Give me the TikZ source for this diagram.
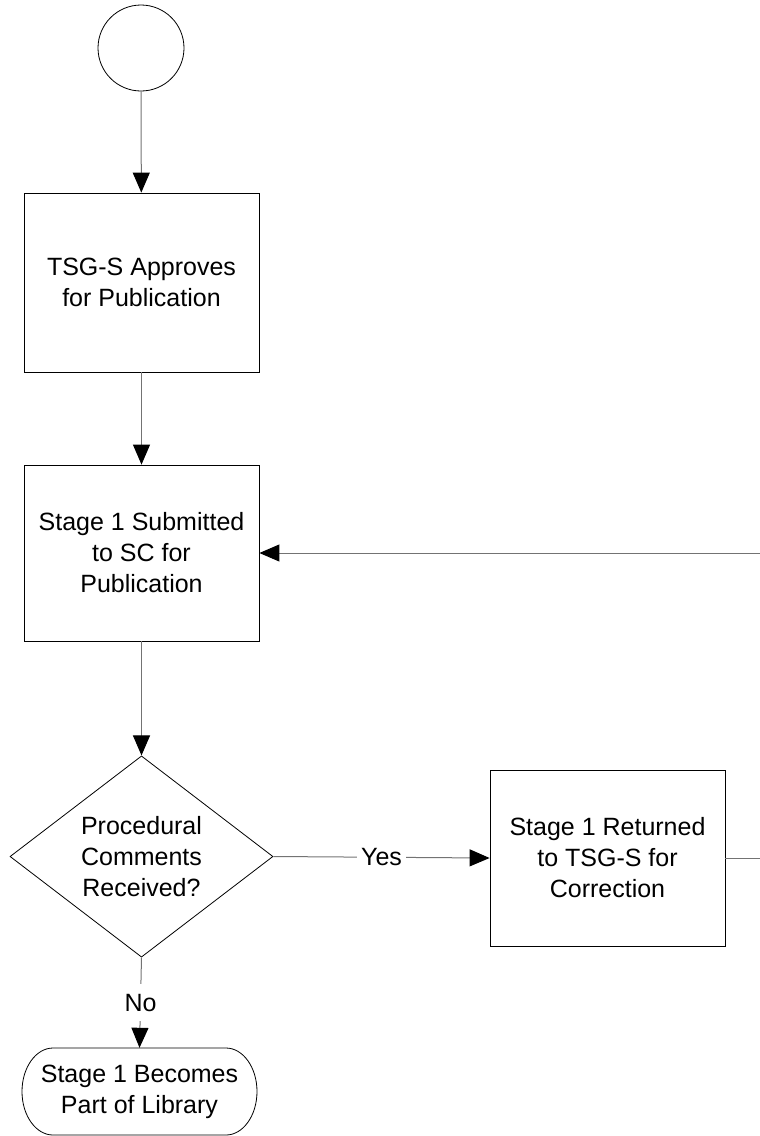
\documentclass[tikz,border=0pt]{standalone}
\usepackage{fontspec}
\setmainfont{Liberation Sans}
\usetikzlibrary{arrows.meta,shapes.geometric}
\begin{document}
\begin{tikzpicture}[x=1pt,y=-1pt,
  every node/.style={font=\fontsize{25}{31}\selectfont, align=center},
  procbox/.style={draw, line width=0.8pt, minimum width=235pt, minimum height=177pt, inner sep=0pt},
  startcirc/.style={draw, circle, line width=0.8pt, minimum size=86pt, inner sep=0pt},
  decision/.style={draw, diamond, line width=0.8pt, minimum width=263pt, minimum height=197pt, inner sep=0pt},
  lbl/.style={fill=white, text=black, inner xsep=4pt, inner ysep=10pt},
  arr/.style={line width=1pt, draw=black!55, -{Triangle[length=20pt,width=17pt,color=black]}},
  plain/.style={line width=1pt, draw=black!55}
]
\useasboundingbox (0,0) rectangle (760,1136);
\node[startcirc] (start) at (141,48) {};
\node[procbox, minimum height=179pt] (approve) at (141.5,282.5) {TSG-S Approves\\for Publication};
\node[procbox, minimum height=176pt] (submit) at (141.5,553) {Stage 1 Submitted\\to SC for\\Publication};
\node[decision] (dec) at (141.5,856.5) {Procedural\\Comments\\Received?};
\node[procbox, minimum height=176pt] (ret) at (607.5,858) {Stage 1 Returned\\to TSG-S for\\Correction};
\node[inner sep=0pt, minimum width=235pt, minimum height=87pt] (term) at (139.5,1091.5) {Stage 1 Becomes\\Part of Library};
\draw[line width=0.8pt] (53,1048) -- (226,1048)
  .. controls (243.1,1048) and (257,1067.5) .. (257,1091.5)
  .. controls (257,1115.5) and (243.1,1135) .. (226,1135)
  -- (53,1135)
  .. controls (35.9,1135) and (22,1115.5) .. (22,1091.5)
  .. controls (22,1067.5) and (35.9,1048) .. (53,1048) -- cycle;
\draw[arr] (start) -- (approve);
\draw[arr] (approve) -- (submit);
\draw[arr] (submit) -- (dec);
\draw[arr] (dec.east) -- node[lbl]{Yes} (ret.west);
\draw[arr] (dec.south) -- node[lbl]{No} (term.north);
\draw[arr] (ret.east) -- ++(60,0) |- (submit.east);
\end{tikzpicture}
\end{document}
